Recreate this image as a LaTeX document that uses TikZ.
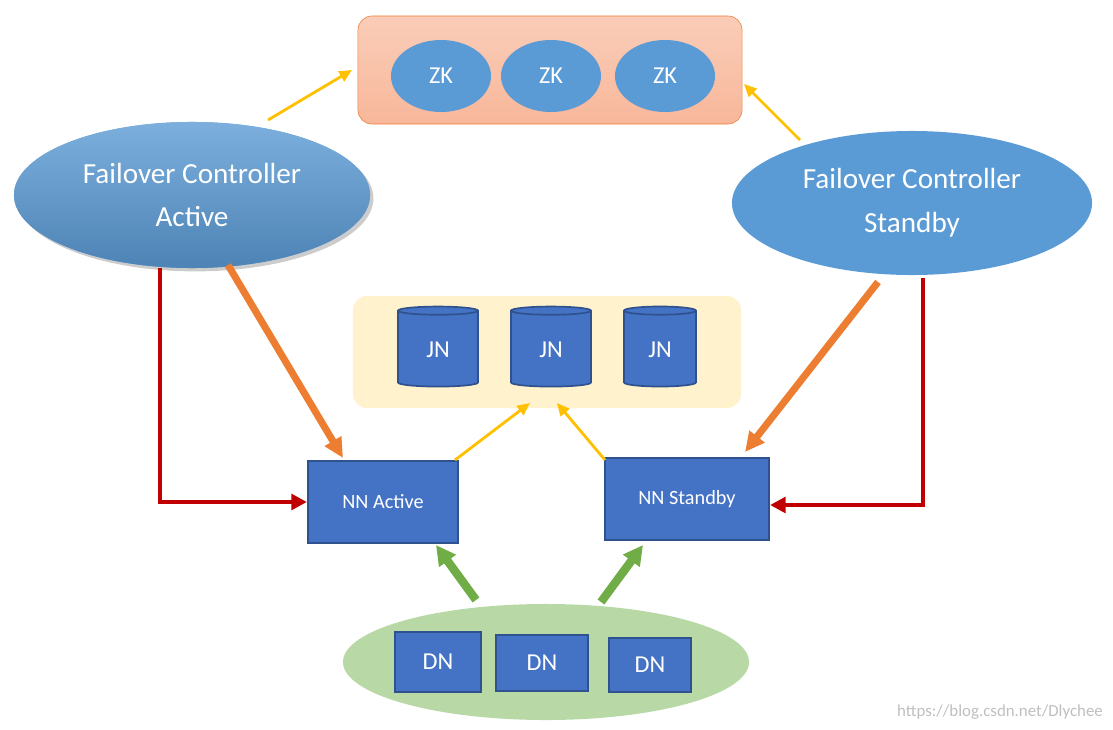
\documentclass[tikz,border=0pt]{standalone}
\usepackage{fontspec}
\setmainfont{Carlito}
\usetikzlibrary{arrows.meta, shapes.geometric, shadows, positioning}
\definecolor{zkblue}{HTML}{5B9BD5}
\definecolor{nnblue}{HTML}{4472C4}
\definecolor{nnedge}{HTML}{2F528F}
\definecolor{jnbg}{HTML}{FFF2CC}
\definecolor{zkbg}{HTML}{F8B79A}
\definecolor{zkedge}{HTML}{ED7D31}
\definecolor{ygold}{HTML}{FFC000}
\definecolor{orng}{HTML}{ED7D31}
\definecolor{rred}{HTML}{C00000}
\definecolor{ggreen}{HTML}{70AD47}
\definecolor{dnbg}{HTML}{B8D8A6}
\tikzset{
  ell/.style={ellipse, fill=zkblue, text=white, inner sep=0pt},
  nn/.style={rectangle, fill=nnblue, draw=nnedge, line width=1.5pt, text=white, font=\Large},
  jn/.style={cylinder, shape border rotate=90, aspect=0.25, fill=nnblue, draw=nnedge, line width=1.2pt,
    cylinder uses custom fill, cylinder body fill=nnblue, cylinder end fill=zkblue!70,
    minimum width=2cm, minimum height=2cm, text=white, font=\LARGE},
  yarr/.style={-{Triangle[length=9pt,width=8pt]}, ygold, line width=2pt},
  oarr/.style={-{Triangle[length=14pt,width=13pt]}, orng, line width=5pt},
  rarr/.style={-{Triangle[length=11pt,width=11pt]}, rred, line width=3pt},
  garr/.style={-{Triangle[length=14pt,width=14pt]}, ggreen, line width=6pt},
}
\begin{document}
\begin{tikzpicture}[x=0.025cm, y=-0.025cm]
\useasboundingbox (0,0) rectangle (1113,730);
% zookeeper
\node (zkbox) [rectangle, rounded corners=10pt, draw=zkedge, top color=zkbg!70, bottom color=zkbg,
  minimum width=9.6cm, minimum height=2.7cm] at (550,70) {};
\node (zk 1) [ell, minimum width=2.5cm, minimum height=1.8cm, font=\LARGE] at (441,76) {ZK};
\node (zk 2) [ell, minimum width=2.5cm, minimum height=1.8cm, font=\LARGE] at (551,76) {ZK};
\node (zk 3) [ell, minimum width=2.5cm, minimum height=1.8cm, font=\LARGE] at (665,76) {ZK};
% failover controllers
\node (fc active) [ell, minimum width=8.9cm, minimum height=3.65cm, font=\huge, align=center,
  top color=zkblue!80, bottom color=zkblue!85!black, drop shadow={opacity=0.4}] at (192,195)
  {Failover Controller\\[6pt]Active};
\node (fc standby) [ell, minimum width=9cm, minimum height=3.6cm, font=\huge, align=center] at (912,203)
  {Failover Controller\\[6pt]Standby};
% journal nodes
\node (jnbox) [rectangle, rounded corners=10pt, fill=jnbg, minimum width=9.7cm, minimum height=2.8cm] at (547,352) {};
\node (jn 1) [jn] at (438,350) {JN};
\node (jn 2) [jn] at (551,350) {JN};
\node (jn 3) [jn, minimum width=1.8cm] at (660,350) {JN};
% name nodes
\node (nn active) [nn, minimum width=3.75cm, minimum height=2.05cm] at (383,502) {NN Active};
\node (nn standby) [nn, minimum width=4.1cm, minimum height=2.05cm] at (687,499) {NN Standby};
% data nodes
\node (dnbg) [ellipse, fill=dnbg, minimum width=10.15cm, minimum height=2.9cm] at (546,662) {};
\node (dn 1) [nn, minimum width=2.15cm, minimum height=1.5cm, font=\LARGE] at (438,662) {DN};
\node (dn 2) [nn, minimum width=2.3cm, minimum height=1.42cm, font=\LARGE] at (542,663) {DN};
\node (dn 3) [nn, minimum width=2.05cm, minimum height=1.35cm, font=\LARGE] at (650,665) {DN};
\node (mark) [text=gray!50, font=\large] at (1000,712) {https://blog.csdn.net/Dlychee};
% connector ends
\coordinate (a1) at (268,120); \coordinate (a2) at (352,70);
\coordinate (b1) at (800,140); \coordinate (b2) at (744,84);
\coordinate (c1) at (455,460); \coordinate (c2) at (530,403);
\coordinate (d1) at (605,460); \coordinate (d2) at (557,403);
\coordinate (e1) at (228,265); \coordinate (e2) at (343,458);
\coordinate (f1) at (878,282); \coordinate (f2) at (745,452);
\coordinate (g1) at (160,268); \coordinate (g2) at (923,278);
\coordinate (h1) at (476,600); \coordinate (h2) at (436,545);
\coordinate (i1) at (601,602); \coordinate (i2) at (643,545);

\draw[yarr] (a1) -- (a2);
\draw[yarr] (b1) -- (b2);
\draw[yarr] (c1) -- (c2);
\draw[yarr] (d1) -- (d2);
\draw[oarr] (e1) -- (e2);
\draw[oarr] (f1) -- (f2);
\draw[rarr] (g1) |- (nn active.west);
\draw[rarr] (g2) |- ([yshift=-0.15cm]nn standby.east);
\draw[garr] (h1) -- (h2);
\draw[garr] (i1) -- (i2);
\end{tikzpicture}
\end{document}
